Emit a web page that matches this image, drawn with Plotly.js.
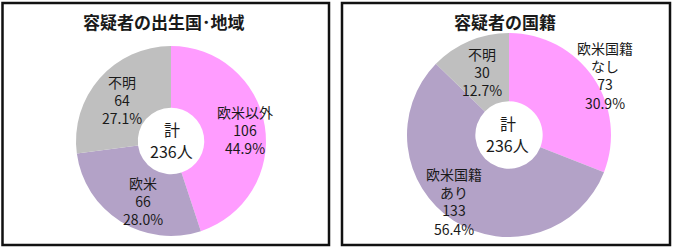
<!DOCTYPE html>
<html>
<head>
<meta charset="utf-8">
<script src="https://cdn.plot.ly/plotly-3.0.1.min.js"></script>
<style>
html,body{margin:0;padding:0;background:#fff;}
#chart{width:674px;height:250px;}
</style>
</head>
<body>
<div id="chart"></div>
<script>
// ---- data ----
const leftTitle = "容疑者の出生国･地域";
const leftLabels = ["欧米以外", "欧米", "不明"];
const leftValues = [106, 66, 64];

const rightTitle = "容疑者の国籍";
const rightLabels = ["欧米国籍<br>なし", "欧米国籍<br>あり", "不明"];
const rightValues = [73, 133, 30];

const centerLabel = "計";
const totalUnit = "人";

const sliceColors = ["#FF9CFF", "#B3A2C7", "#BFBFBF"];

// ---- helpers ----
const W = 674, H = 250;
const px = x => x / W;
const py = y => 1 - y / H;
const FONT = '"Noto Sans CJK JP", "Noto Sans", sans-serif';
const TXT = "#1a1a1a";

function sum(a){ return a.reduce((s,v)=>s+v,0); }
function labelText(labels, values, i){
  const pct = (values[i] / sum(values) * 100).toFixed(1) + "%";
  return labels[i] + "<br>" + values[i] + "<br>" + pct;
}

const traces = [
  {
    type: "pie",
    labels: leftLabels,
    values: leftValues,
    sort: false,
    direction: "clockwise",
    rotation: 0,
    hole: 0.35,
    marker: {colors: sliceColors, line: {width: 0}},
    textinfo: "none",
    hoverinfo: "label+value+percent",
    showlegend: false,
    domain: {x: [px(76), px(266)], y: [py(236), py(46)]}
  },
  {
    type: "pie",
    labels: rightLabels,
    values: rightValues,
    sort: false,
    direction: "clockwise",
    rotation: 0,
    hole: 0.33,
    marker: {colors: sliceColors, line: {width: 0}},
    textinfo: "none",
    hoverinfo: "label+value+percent",
    showlegend: false,
    domain: {x: [px(407), px(611)], y: [py(237), py(33)]}
  }
];

// label positions (pixel centres)
const leftPos = [[245,130],[143,201],[122,100]];
const rightPos = [[605,75],[454,201],[482,72]];

const annotations = [];
function addAnn(x, y, text, size, bold){
  annotations.push({
    xref: "paper", yref: "paper", x: px(x), y: py(y),
    xanchor: "center", yanchor: "middle", showarrow: false,
    text: bold ? "<b>" + text + "</b>" : text,
    font: {family: FONT, size: size, color: TXT},
    align: "center"
  });
}
addAnn(164, 22, leftTitle, 17, true);
addAnn(505, 22, rightTitle, 17, true);
leftLabels.forEach((l,i)=>addAnn(leftPos[i][0], leftPos[i][1], labelText(leftLabels,leftValues,i), 14, false));
rightLabels.forEach((l,i)=>addAnn(rightPos[i][0], rightPos[i][1], labelText(rightLabels,rightValues,i), 14, false));
addAnn(172, 129, centerLabel, 16, false);
addAnn(171, 151, sum(leftValues) + totalUnit, 16, false);
addAnn(508, 123, centerLabel, 16, false);
addAnn(507, 145, sum(rightValues) + totalUnit, 16, false);

const shapes = [
  {type:"rect", xref:"paper", yref:"paper", x0:px(2.5), x1:px(329), y0:py(245), y1:py(3),
   line:{color:"#111", width:2.5}, fillcolor:"rgba(0,0,0,0)"},
  {type:"rect", xref:"paper", yref:"paper", x0:px(342), x1:px(670), y0:py(245), y1:py(3),
   line:{color:"#111", width:2.5}, fillcolor:"rgba(0,0,0,0)"}
];

const layout = {
  width: W, height: H,
  margin: {l:0, r:0, t:0, b:0, pad:0},
  paper_bgcolor: "#fff",
  plot_bgcolor: "#fff",
  showlegend: false,
  annotations: annotations,
  shapes: shapes,
  font: {family: FONT, color: TXT}
};

Plotly.newPlot("chart", traces, layout, {displayModeBar: false, staticPlot: true});
</script>
</body>
</html>
